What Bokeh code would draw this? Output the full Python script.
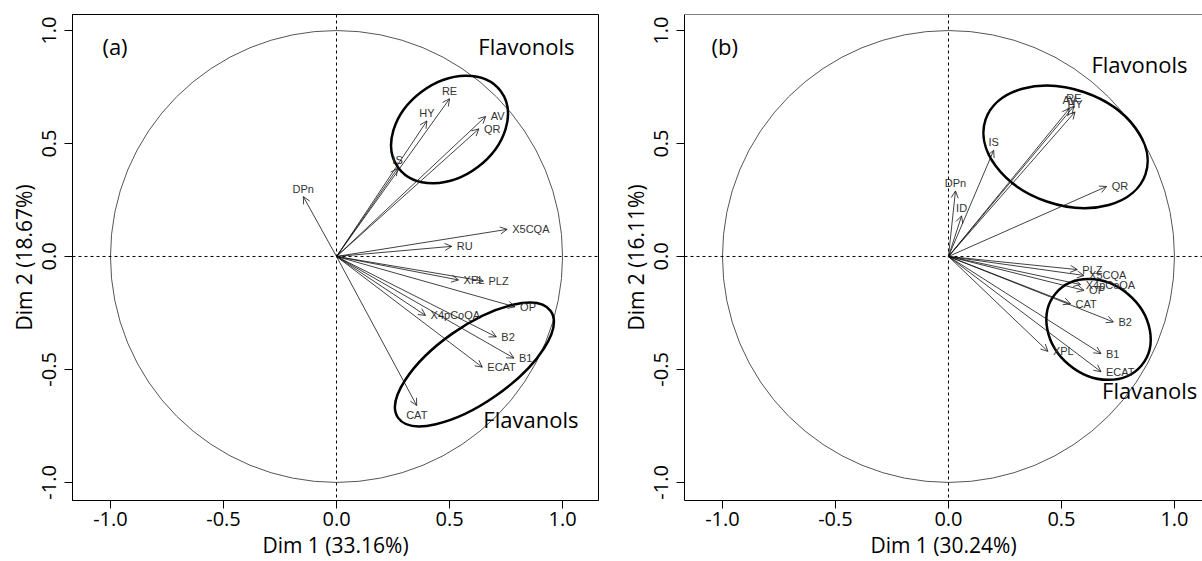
import numpy as np
from bokeh.plotting import figure
from bokeh.models import ColumnDataSource, Arrow, OpenHead, Span, FixedTicker
from bokeh.layouts import row
from bokeh.embed import file_html
from bokeh.resources import INLINE
from bokeh.core.properties import value

# ---------------- data: panel (a) ----------------
vars_a = ["RE", "HY", "AV", "QR", "IS", "DPn", "X5CQA", "RU", "XPL", "PLZ",
          "OP", "X4pCoQA", "B2", "B1", "ECAT", "CAT"]
dim1_a = [0.50, 0.40, 0.66, 0.63, 0.27, -0.147, 0.755, 0.51, 0.54, 0.65,
          0.79, 0.394, 0.707, 0.785, 0.645, 0.355]
dim2_a = [0.698, 0.60, 0.62, 0.565, 0.39, 0.265, 0.12, 0.045, -0.104, -0.109,
          -0.223, -0.261, -0.356, -0.45, -0.49, -0.66]
xlab_a = "Dim 1 (33.16%)"
ylab_a = "Dim 2 (18.67%)"
ell_cx_a = [0.50, 0.61]
ell_cy_a = [0.562, -0.478]
ell_w_a = [0.566, 0.824]
ell_h_a = [0.416, 0.336]
ell_ang_a = [37, 35]
grp_text_a = ["(a)", "Flavonols", "Flavanols"]
grp_x_a = [-0.98, 0.84, 0.86]
grp_y_a = [0.93, 0.93, -0.72]

# ---------------- data: panel (b) ----------------
vars_b = ["RE", "AV", "HY", "IS", "DPn", "ID", "QR", "PLZ", "X5CQA", "X4pCoQA",
          "OP", "CAT", "B2", "B1", "ECAT", "XPL"]
dim1_b = [0.555, 0.535, 0.56, 0.20, 0.031, 0.058, 0.70, 0.57, 0.60, 0.585,
          0.60, 0.54, 0.73, 0.675, 0.675, 0.44]
dim2_b = [0.665, 0.655, 0.64, 0.47, 0.29, 0.18, 0.31, -0.058, -0.084, -0.124,
          -0.15, -0.21, -0.29, -0.43, -0.51, -0.42]
xlab_b = "Dim 1 (30.24%)"
ylab_b = "Dim 2 (16.11%)"
ell_cx_b = [0.518, 0.664]
ell_cy_b = [0.485, -0.323]
ell_w_b = [0.748, 0.496]
ell_h_b = [0.512, 0.408]
ell_ang_b = [-19, -40]
grp_text_b = ["(b)", "Flavonols", "Flavanols"]
grp_x_b = [-0.99, 0.845, 0.89]
grp_y_b = [0.93, 0.854, -0.593]

tick_vals = [-1.0, -0.5, 0.0, 0.5, 1.0]
tick_labels = ["-1.0", "-0.5", "0.0", "0.5", "1.0"]

FONT = "Open Sans"
Y_RANGE = (-1.08, 1.071)


def make_panel(names, xs, ys, xlab, ylab, ecx, ecy, ew, eh, eang,
               gtext, gx, gy, width, x_range, bl, br, right_border=True):
    p = figure(width=width, height=561, x_range=x_range, y_range=Y_RANGE,
               output_backend="svg", toolbar_location=None,
               min_border_left=bl, min_border_right=br,
               min_border_top=14, min_border_bottom=61)
    p.background_fill_color = "white"
    p.border_fill_color = "white"
    p.grid.visible = False
    if right_border:
        p.outline_line_color = "black"
        p.outline_line_width = 1
    else:
        p.outline_line_color = None
        p.add_layout(Span(location=Y_RANGE[1], dimension="width",
                          line_color="black", line_width=1))

    for ax in (p.xaxis[0], p.yaxis[0]):
        ax.ticker = FixedTicker(ticks=tick_vals)
        ax.major_label_overrides = {v: l for v, l in zip(tick_vals, tick_labels)}
        ax.minor_tick_line_color = None
        ax.major_tick_in = 0
        ax.major_tick_out = 8
        ax.major_tick_line_color = "black"
        ax.axis_line_color = "black"
        ax.major_label_text_font = FONT
        ax.major_label_text_font_size = "20px"
        ax.major_label_text_color = "black"
        ax.axis_label_text_font = FONT
        ax.axis_label_text_font_size = "21px"
        ax.axis_label_text_font_style = "normal"
        ax.axis_label_text_color = "black"
        ax.major_label_standoff = 3
        ax.axis_label_standoff = 2
    p.yaxis.major_label_standoff = 8
    p.xaxis.axis_label = xlab
    p.yaxis.axis_label = ylab
    p.yaxis.major_label_orientation = "vertical"

    # zero lines
    p.add_layout(Span(location=0, dimension="height", line_color="black",
                      line_width=1, line_dash="3 3"))
    p.add_layout(Span(location=0, dimension="width", line_color="black",
                      line_width=1, line_dash="3 3"))

    # correlation circle
    p.ellipse(x=[0], y=[0], width=[2], height=[2], fill_color=None,
              line_color="#555555", line_width=1)

    # group ellipses
    esrc = ColumnDataSource(dict(x=ecx, y=ecy, w=ew, h=eh,
                                 a=[np.deg2rad(v) for v in eang]))
    p.ellipse(x="x", y="y", width="w", height="h", angle="a", source=esrc,
              fill_color=None, line_color="black", line_width=2.5)

    # arrows
    asrc = ColumnDataSource(dict(x0=[0.0] * len(xs), y0=[0.0] * len(xs), x=xs, y=ys))
    p.add_layout(Arrow(end=OpenHead(size=7, line_width=0.8, line_color="#111111"),
                       source=asrc, x_start="x0", y_start="y0", x_end="x", y_end="y",
                       line_width=0.8, line_color="#111111"))

    # variable labels (placed as R does: beside or above/below the tip)
    groups = {"right": ([], [], []), "left": ([], [], []),
              "above": ([], [], []), "below": ([], [], [])}
    for n, x, y in zip(names, xs, ys):
        if abs(x) >= abs(y):
            key = "right" if x >= 0 else "left"
        else:
            key = "above" if y >= 0 else "below"
        groups[key][0].append(x)
        groups[key][1].append(y)
        groups[key][2].append(n)
    spec = {"right": ("left", "middle", 5, 0),
            "left": ("right", "middle", -5, 0),
            "above": ("center", "bottom", 0, -2),
            "below": ("center", "top", 0, 3)}
    for key, (gxs, gys, gns) in groups.items():
        if not gxs:
            continue
        al, bs, dx, dy = spec[key]
        p.text(x=gxs, y=gys, text=gns, text_font=value("Liberation Sans"),
               text_font_size="11px", text_color="#333333",
               text_align=al, text_baseline=bs, x_offset=dx, y_offset=dy)

    # group labels
    p.text(x=gx, y=gy, text=gtext, text_font=value(FONT), text_font_size="22px",
           text_color="black", text_align="center", text_baseline="middle")
    return p


pa = make_panel(vars_a, dim1_a, dim2_a, xlab_a, ylab_a, ell_cx_a, ell_cy_a,
                ell_w_a, ell_h_a, ell_ang_a, grp_text_a, grp_x_a, grp_y_a,
                width=600, x_range=(-1.168, 1.159), bl=72, br=2)
pb = make_panel(vars_b, dim1_b, dim2_b, xlab_b, ylab_b, ell_cx_b, ell_cy_b,
                ell_w_b, ell_h_b, ell_ang_b, grp_text_b, grp_x_b, grp_y_b,
                width=602, x_range=(-1.168, 1.124), bl=84, br=0,
                right_border=False)

layout = row(pa, pb)
open("out.html", "w").write(file_html(layout, INLINE))
